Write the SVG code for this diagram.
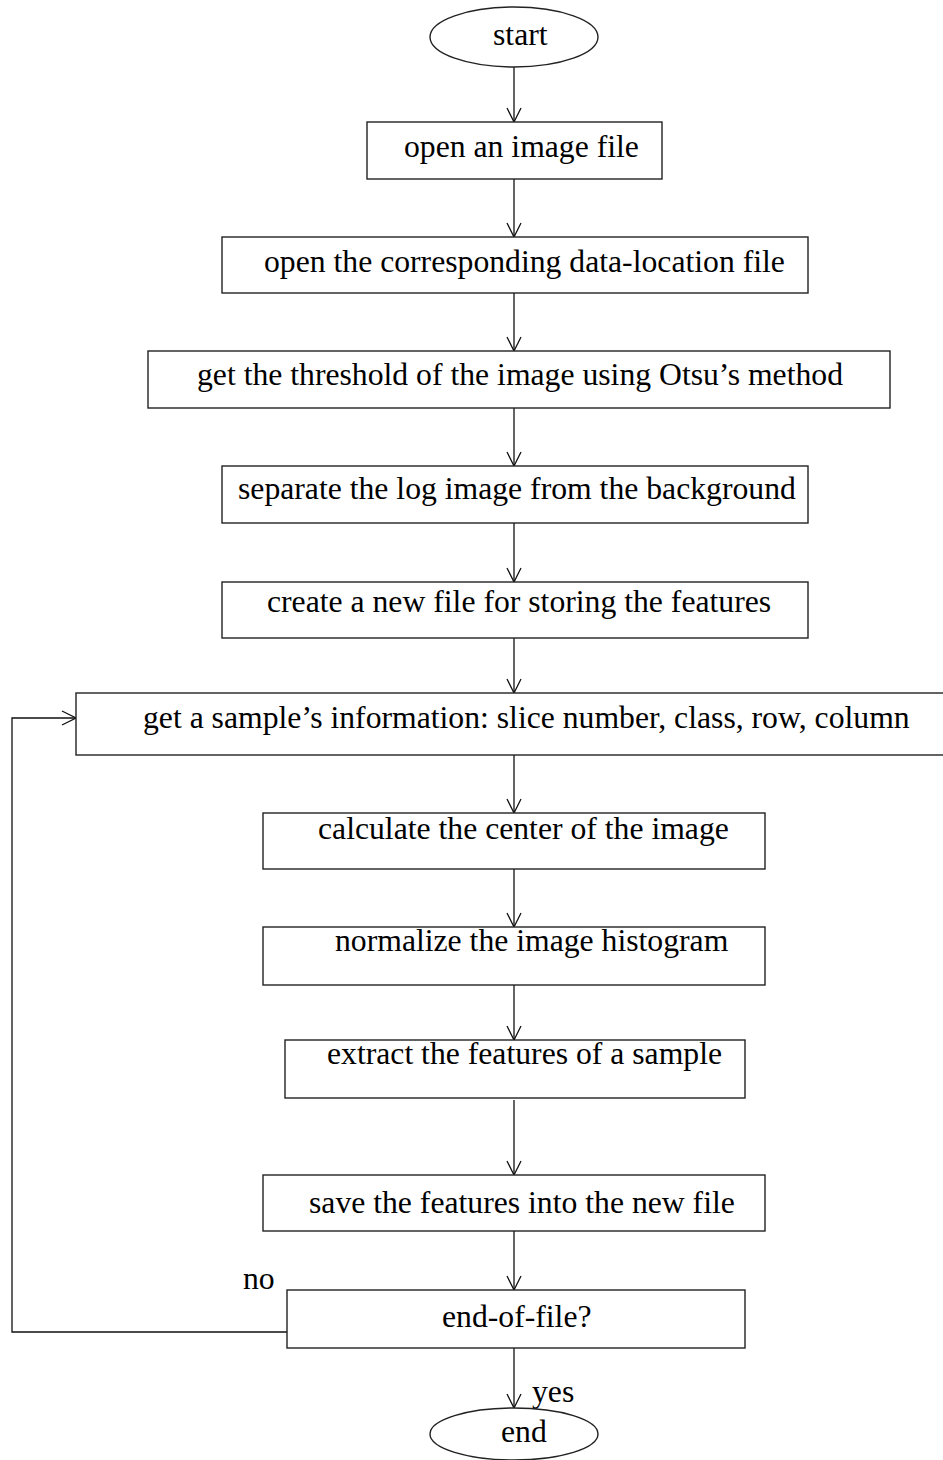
<svg xmlns="http://www.w3.org/2000/svg" width="943" height="1460" viewBox="0 0 943 1460">
  <style>
    .box { fill: #ffffff; stroke: #222222; stroke-width: 1.4; }
    .lbl { font-family: "Liberation Serif", "Times New Roman", serif; font-size: 31.7px; fill: #000000; }
    .edge { fill: none; stroke: #111111; stroke-width: 1.3; }
  </style>
  <defs>
    <marker id="arrow" viewBox="0 0 16 16" refX="15" refY="8" markerWidth="16" markerHeight="16" markerUnits="userSpaceOnUse" orient="auto">
      <path d="M1,1 L15,8 L1,15" fill="none" stroke="#111111" stroke-width="1.3"/>
    </marker>
  </defs>
  <rect x="0" y="0" width="943" height="1460" fill="#ffffff"/>

  <g id="connectors">
    <line class="edge" x1="514" y1="67" x2="514" y2="122" marker-end="url(#arrow)"/>
    <line class="edge" x1="514" y1="179" x2="514" y2="237" marker-end="url(#arrow)"/>
    <line class="edge" x1="514" y1="293" x2="514" y2="351" marker-end="url(#arrow)"/>
    <line class="edge" x1="514" y1="408" x2="514" y2="466" marker-end="url(#arrow)"/>
    <line class="edge" x1="514" y1="523" x2="514" y2="582" marker-end="url(#arrow)"/>
    <line class="edge" x1="514" y1="638" x2="514" y2="693" marker-end="url(#arrow)"/>
    <line class="edge" x1="514" y1="755" x2="514" y2="813" marker-end="url(#arrow)"/>
    <line class="edge" x1="514" y1="869" x2="514" y2="927" marker-end="url(#arrow)"/>
    <line class="edge" x1="514" y1="985" x2="514" y2="1040" marker-end="url(#arrow)"/>
    <line class="edge" x1="514" y1="1100" x2="514" y2="1175" marker-end="url(#arrow)"/>
    <line class="edge" x1="514" y1="1231" x2="514" y2="1290" marker-end="url(#arrow)"/>
    <line class="edge" x1="514" y1="1348" x2="514" y2="1408" marker-end="url(#arrow)"/>
    <polyline class="edge" points="287,1332 12,1332 12,718 76,718" marker-end="url(#arrow)"/>
  </g>

  <g id="n-start">
    <ellipse class="box" cx="514" cy="37" rx="84" ry="30"/>
    <text class="lbl" x="493" y="45">start</text>
  </g>
  <g id="n-open-image">
    <rect class="box" x="367" y="122" width="295" height="57"/>
    <text class="lbl" x="404" y="157">open an image file</text>
  </g>
  <g id="n-open-location">
    <rect class="box" x="222" y="237" width="586" height="56"/>
    <text class="lbl" x="264" y="272">open the corresponding data-location file</text>
  </g>
  <g id="n-threshold">
    <rect class="box" x="148" y="351" width="742" height="57"/>
    <text class="lbl" x="197" y="385">get the threshold of the image using Otsu’s method</text>
  </g>
  <g id="n-separate">
    <rect class="box" x="222" y="466" width="586" height="57"/>
    <text class="lbl" x="238" y="499">separate the log image from the background</text>
  </g>
  <g id="n-create">
    <rect class="box" x="222" y="582" width="586" height="56"/>
    <text class="lbl" x="267" y="612">create a new file for storing the features</text>
  </g>
  <g id="n-sample">
    <rect class="box" x="76" y="693" width="870" height="62"/>
    <text class="lbl" x="143" y="728">get a sample’s information: slice number, class, row, column</text>
  </g>
  <g id="n-center">
    <rect class="box" x="263" y="813" width="502" height="56"/>
    <text class="lbl" x="318" y="839">calculate the center of the image</text>
  </g>
  <g id="n-normalize">
    <rect class="box" x="263" y="927" width="502" height="58"/>
    <text class="lbl" x="335" y="951">normalize the image histogram</text>
  </g>
  <g id="n-extract">
    <rect class="box" x="285" y="1040" width="460" height="58"/>
    <text class="lbl" x="327" y="1064">extract the features of a sample</text>
  </g>
  <g id="n-save">
    <rect class="box" x="263" y="1175" width="502" height="56"/>
    <text class="lbl" x="309" y="1213">save the features into the new file</text>
  </g>
  <g id="n-eof">
    <rect class="box" x="287" y="1290" width="458" height="58"/>
    <text class="lbl" x="442" y="1327">end-of-file?</text>
    <text class="lbl" x="243" y="1289">no</text>
    <text class="lbl" x="532" y="1402">yes</text>
  </g>
  <g id="n-end">
    <ellipse class="box" cx="514" cy="1434" rx="84" ry="26"/>
    <text class="lbl" x="501" y="1442">end</text>
  </g>
</svg>
